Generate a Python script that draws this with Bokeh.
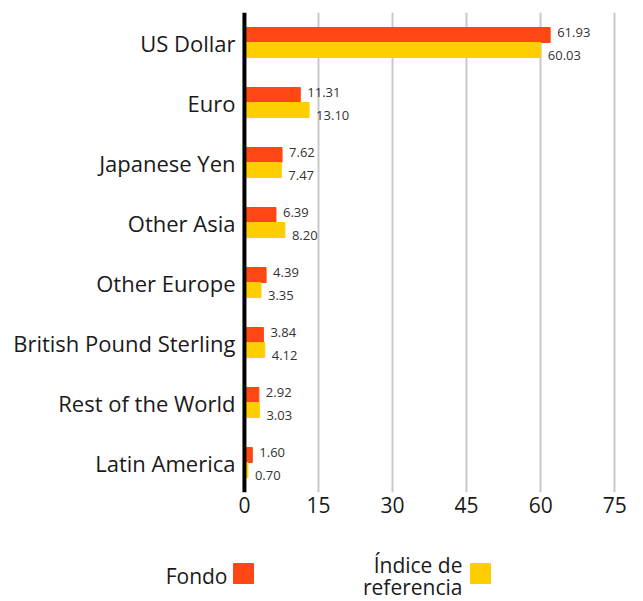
from bokeh.plotting import figure
from bokeh.models import FactorRange, Range1d, Span, FixedTicker, ColumnDataSource
from bokeh.transform import dodge
from bokeh.embed import file_html
from bokeh.resources import INLINE
from bokeh.core.properties import value

categories = ["US Dollar", "Euro", "Japanese Yen", "Other Asia", "Other Europe",
              "British Pound Sterling", "Rest of the World", "Latin America"]
fondo = [61.93, 11.31, 7.62, 6.39, 4.39, 3.84, 2.92, 1.60]
indice = [60.03, 13.10, 7.47, 8.20, 3.35, 4.12, 3.03, 0.70]
x_ticks = [0, 15, 30, 45, 60, 75]
series_names = ["Fondo", "Índice de", "referencia"]

RED = "#FF4713"
YEL = "#FFCE00"
FONT = "Open Sans"
TXT = "#1A1A1A"

src = ColumnDataSource(dict(
    cat=categories, fondo=fondo, indice=indice,
    fondo_lbl=[f"{v:.2f}" for v in fondo],
    indice_lbl=[f"{v:.2f}" for v in indice],
))

W, H = 635, 530
p = figure(width=W, height=H, output_backend="svg", toolbar_location=None,
           y_range=FactorRange(factors=list(reversed(categories))),
           x_range=Range1d(-1, 78),
           min_border_left=239, min_border_right=6, min_border_top=12, min_border_bottom=38)
p.outline_line_color = None
p.background_fill_color = None
p.border_fill_color = None

p.hbar(y=dodge("cat", 0.125, range=p.y_range), left=0, right="fondo", height=0.25,
       color=RED, source=src)
p.hbar(y=dodge("cat", -0.125, range=p.y_range), left=0, right="indice", height=0.25,
       color=YEL, source=src)

p.text(x="fondo", y=dodge("cat", 0.125, range=p.y_range), text="fondo_lbl", source=src,
       x_offset=7, y_offset=-2.5, text_font=value(FONT), text_font_size="13px",
       text_color="#333333", text_baseline="middle", text_align="left")
p.text(x="indice", y=dodge("cat", -0.125, range=p.y_range), text="indice_lbl", source=src,
       x_offset=7, y_offset=5, text_font=value(FONT), text_font_size="13px",
       text_color="#333333", text_baseline="middle", text_align="left")

p.add_layout(Span(location=0, dimension="height", line_color="black", line_width=4))

p.xaxis.ticker = FixedTicker(ticks=x_ticks)
p.xaxis.axis_line_color = None
p.xaxis.major_tick_line_color = None
p.xaxis.major_tick_out = 0
p.xaxis.major_tick_in = 0
p.xaxis.minor_tick_line_color = None
p.xaxis.major_label_text_font = FONT
p.xaxis.major_label_text_font_size = "21px"
p.xaxis.major_label_text_color = TXT
p.xaxis.major_label_standoff = 4

p.yaxis.axis_line_color = None
p.yaxis.major_tick_line_color = None
p.yaxis.major_tick_out = 0
p.yaxis.major_tick_in = 0
p.yaxis.major_label_text_font = FONT
p.yaxis.major_label_text_font_size = "22px"
p.yaxis.major_label_text_color = TXT
p.yaxis.major_label_standoff = 4

p.xgrid.ticker = FixedTicker(ticks=x_ticks[1:])
p.xgrid.grid_line_color = "#C8C8C8"
p.xgrid.grid_line_width = 2
p.ygrid.grid_line_color = None

# legend strip as its own root (coordinates = page pixels)
LH = 70
leg = figure(width=W, height=LH, output_backend="svg", toolbar_location=None,
             x_range=Range1d(0, W), y_range=Range1d(H + LH, H),
             min_border_left=0, min_border_right=0, min_border_top=0, min_border_bottom=0)
leg.axis.visible = False
leg.grid.visible = False
leg.outline_line_color = None
leg.background_fill_color = None
leg.border_fill_color = None

leg.rect(x=[243, 480], y=[573, 573], width=20, height=20, color=[RED, YEL])
leg.text(x=[227, 462, 462], y=[575, 564, 586], text=series_names, text_font=value(FONT),
         text_font_size="21px", text_color=TXT, text_align="right",
         text_baseline="alphabetic")

open("out.html", "w").write(file_html([p, leg], INLINE))
